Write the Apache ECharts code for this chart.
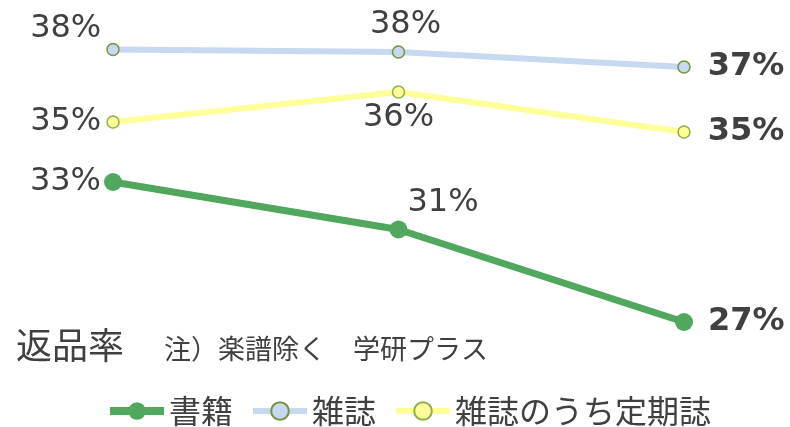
<!DOCTYPE html>
<html>
<head>
<meta charset="utf-8">
<script src="https://cdn.jsdelivr.net/npm/echarts@6/dist/echarts.min.js"></script>
<style>
html, body { margin: 0; padding: 0; background: #fff; }
#chart { width: 790px; height: 427px; }
</style>
</head>
<body>
<div id="chart"></div>
<script>
// 返品率の推移（軸は非表示）
var categories = ['期1', '期2', '期3'];
var seriesNames = ['書籍', '雑誌', '雑誌のうち定期誌'];
var bookValues = [32.8, 30.9, 27.2];
var magazineValues = [38.1, 38.0, 37.4];
var periodicalValues = [35.2, 36.4, 34.8];

var textColor = '#404040';
var fontFamily = '"DejaVu Sans", "Noto Sans CJK JP", sans-serif';
var cjkFont = '"Noto Sans CJK JP", sans-serif';
var colors = ['#52A75E', '#C6D9F1', '#FFFF99'];

function pct(p) {
    return Math.round(p.value) + '%';
}

// 各点のラベル位置（最後の点は太字で右側）
function makeData(values, labels) {
    return values.map(function (v, i) {
        return { value: v, label: labels[i] };
    });
}

var lastLabel = function (dist) {
    return { position: 'right', distance: dist, fontWeight: 'bold', fontSize: 32 };
};

var chart = echarts.init(document.getElementById('chart'));

var option = {
    animation: false,
    textStyle: { fontFamily: fontFamily, color: textColor },
    title: {
        left: 11,
        top: 322,
        text: '{a|返品率}{b|注）楽譜除く　学研プラス}',
        textStyle: {
            rich: {
                a: { fontSize: 36, fontWeight: 'normal', color: textColor, fontFamily: cjkFont },
                b: { fontSize: 27, fontWeight: 'normal', color: textColor, fontFamily: cjkFont, padding: [8, 0, 0, 40] }
            }
        }
    },
    legend: {
        top: 390,
        left: 101,
        itemWidth: 54,
        itemHeight: 22,
        itemGap: 17,
        textStyle: { fontSize: 32, color: textColor, fontFamily: cjkFont },
        data: [
            { name: seriesNames[0], lineStyle: { width: 8 } },
            { name: seriesNames[1], lineStyle: { width: 6 } },
            { name: seriesNames[2], lineStyle: { width: 6 } }
        ]
    },
    grid: { left: 113, right: 106, top: 27, bottom: 75 },
    xAxis: {
        type: 'category',
        data: categories,
        boundaryGap: false,
        show: false
    },
    yAxis: {
        type: 'value',
        min: 26,
        max: 39,
        show: false
    },
    series: [
        {
            name: seriesNames[0],
            type: 'line',
            symbol: 'circle',
            symbolSize: 18,
            lineStyle: { width: 7, color: colors[0] },
            itemStyle: { color: colors[0] },
            label: { show: true, formatter: pct, fontSize: 32, color: textColor },
            data: makeData(bookValues, [
                { position: 'left', distance: 3 },
                { position: 'right', distance: 0, offset: [0, -27] },
                lastLabel(15)
            ]),
            z: 3
        },
        {
            name: seriesNames[1],
            type: 'line',
            symbol: 'circle',
            symbolSize: 12,
            lineStyle: { width: 6, color: colors[1] },
            itemStyle: { color: colors[1], borderColor: '#77933C', borderWidth: 1.5 },
            label: { show: true, formatter: pct, fontSize: 32, color: textColor },
            data: makeData(magazineValues, [
                { position: 'left', distance: 5, offset: [0, -21] },
                { position: 'top', distance: 5, offset: [7, 0] },
                lastLabel(17)
            ]),
            z: 2
        },
        {
            name: seriesNames[2],
            type: 'line',
            symbol: 'circle',
            symbolSize: 12,
            lineStyle: { width: 6, color: colors[2] },
            itemStyle: { color: colors[2], borderColor: '#8FAF4A', borderWidth: 1.5 },
            label: { show: true, formatter: pct, fontSize: 32, color: textColor },
            data: makeData(periodicalValues, [
                { position: 'left', distance: 5 },
                { position: 'bottom', distance: 3 },
                lastLabel(17)
            ]),
            z: 2
        }
    ]
};

chart.setOption(option);
</script>
</body>
</html>
